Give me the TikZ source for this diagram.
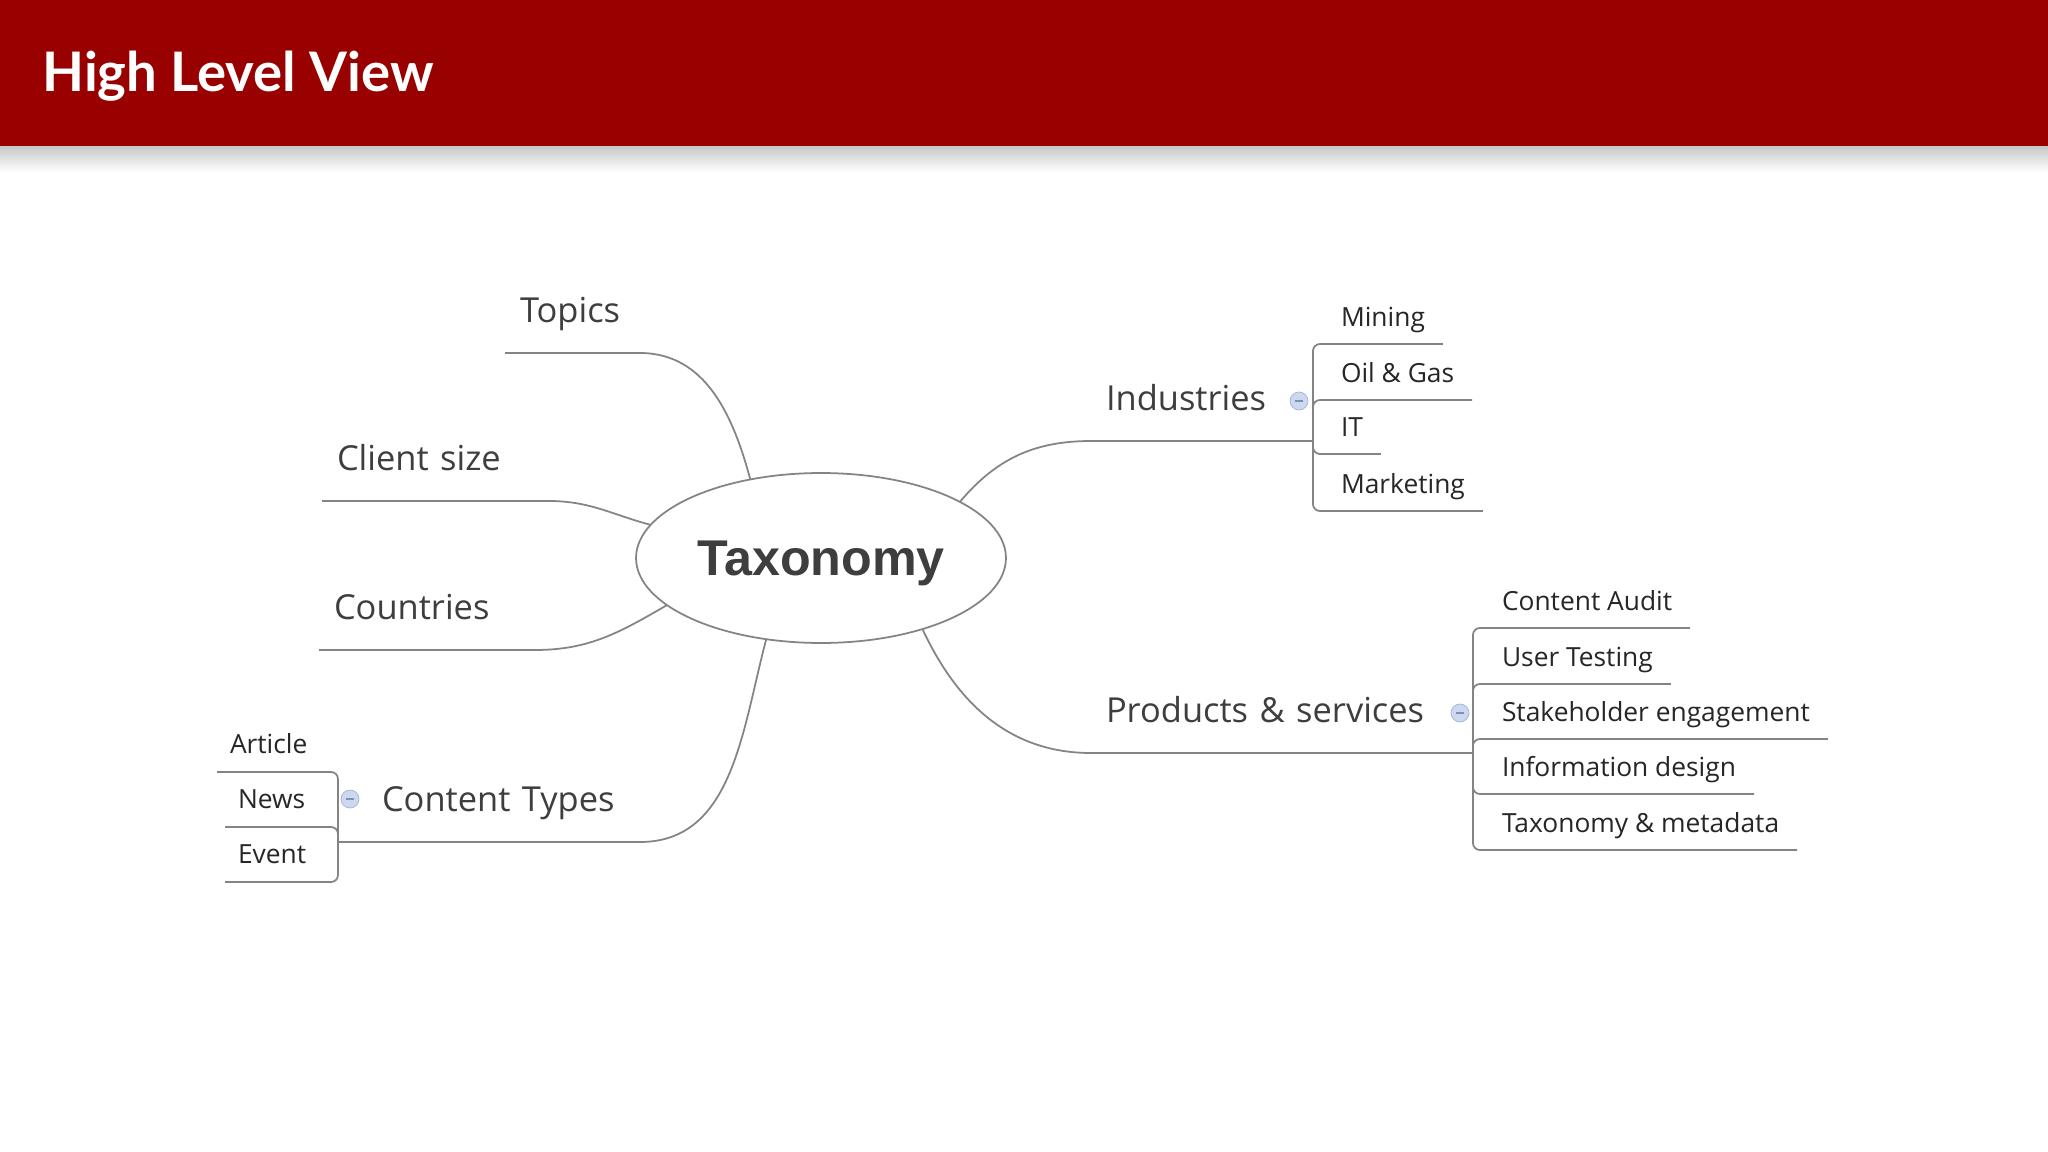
\documentclass[tikz,border=0pt]{standalone}
\usepackage{fontspec}
\setmainfont{Open Sans}
\newfontfamily\titlefont{Lato}
\newfontfamily\rootfont{Liberation Sans}
\usetikzlibrary{shapes.geometric,positioning,calc}

\definecolor{hdred}{RGB}{153,0,0}
\definecolor{ink}{RGB}{62,62,62}
\definecolor{wire}{RGB}{132,132,132}
\definecolor{colfill}{RGB}{204,216,238}
\definecolor{colline}{RGB}{160,180,220}

\begin{document}
\begin{tikzpicture}[x=0.02cm, y=-0.02cm,
    root/.style={ellipse, draw=wire, line width=1pt, minimum width=7.4cm, minimum height=3.4cm, inner sep=0pt, outer sep=0pt, text depth=0pt, text=ink, font=\rootfont\bfseries\fontsize{28.6}{32}\selectfont},
    topic/.style={anchor=south west, inner xsep=0.3cm, inner ysep=0pt, outer sep=0pt, text depth=0.62cm, align=left, text=ink, font=\fontsize{19.6}{24}\selectfont},
    leaf/.style={anchor=south west, inner xsep=0.36cm, inner ysep=0pt, outer sep=0pt, text depth=0.36cm, text=black!85, font=\fontsize{15}{18}\selectfont},
    branch/.style={draw=wire, line width=1pt},
    twig/.style={draw=wire, line width=1pt, rounded corners=0.14cm},
    toggle/.style={circle, draw=colline, fill=colfill, minimum size=0.36cm, inner sep=0pt, path picture={\draw[colline!80!black, line width=0.8pt] ([xshift=-0.08cm]path picture bounding box.center) -- ([xshift=0.08cm]path picture bounding box.center);}}
]

    % Page and header
    \useasboundingbox (0,0) rectangle (2048,1152);
    \fill[white] (0,0) rectangle (2048,1152);
    \shade[top color=black!22, bottom color=white] (0,146) rectangle (2048,172);
    \fill[hdred] (0,0) rectangle (2048,146);
    \node[anchor=base west, inner sep=0pt, text=white, font=\titlefont\bfseries\fontsize{31}{36}\selectfont] (title) at (42,92) {High Level View};

    % Central topic
    \node[root] (taxo) at (821,558) {Taxonomy};

    % Main topics
    \node[topic, text width=2.1cm] (topics) at (505,353) {Topics};
    \node[topic, text width=3.94cm] (client) at (322,501) {Client size};
    \node[topic, text width=3.72cm] (countries) at (319,650) {Countries};
    \node[topic, text width=4.86cm] (ctypes) at (367,842) {Content Types};
    \node[topic, text width=3.84cm] (inds) at (1091,441) {Industries};
    \node[topic, text width=7.04cm] (prods) at (1091,753) {Products \& services};
    \coordinate (ctJ) at (338,842);

    % Collapse buttons
    \node[toggle] (indtog) at (1299,401) {};
    \node[toggle] (prodtog) at (1460,713) {};
    \node[toggle] (cttog) at (350,799) {};

    % Industries
    \node[leaf] (mining) at (1323,344) {Mining};
    \node[leaf] (oilgas) at (1323,400) {Oil \& Gas};
    \node[leaf] (it) at (1323,454) {IT};
    \node[leaf] (marketing) at (1323,511) {Marketing};

    % Products & services
    \node[leaf] (audit) at (1484,628) {Content Audit};
    \node[leaf] (usertest) at (1484,684) {User Testing};
    \node[leaf] (stake) at (1484,739) {Stakeholder engagement};
    \node[leaf] (infodes) at (1484,794) {Information design};
    \node[leaf] (taxmeta) at (1484,850) {Taxonomy \& metadata};

    % Content types
    \node[leaf, inner xsep=0.26cm, text depth=0.38cm] (article) at (217,772) {Article};
    \node[leaf, inner xsep=0.26cm, text depth=0.38cm] (news) at (225,827) {News};
    \node[leaf, inner xsep=0.26cm, text depth=0.38cm] (event) at (225,882) {Event};

    % Branches
    \draw[branch] (taxo.132) to[out=105,in=0] (topics.south east) -- (topics.south west);
    \draw[branch] (taxo.169) to[out=165,in=0] (client.south east) -- (client.south west);
    \draw[branch] (taxo.197) to[out=210,in=0] (countries.south east) -- (countries.south west);
    \draw[branch] (taxo.236) to[out=255,in=0] (ctypes.south east) -- (ctJ);
    \draw[branch] (taxo.22) to[out=50,in=180] (inds.south west) -- (inds.south east);
    \draw[branch] (taxo.325) to[out=295,in=180] (prods.south west) -- (prods.south east);

    % Sub-branches
    \draw[twig] (inds.south east) |- (mining.south east);
    \draw[twig] (inds.south east) |- (oilgas.south east);
    \draw[twig] (inds.south east) |- (it.south east);
    \draw[twig] (inds.south east) |- (marketing.south east);
    \draw[twig] (prods.south east) |- (audit.south east);
    \draw[twig] (prods.south east) |- (usertest.south east);
    \draw[twig] (prods.south east) |- (stake.south east);
    \draw[twig] (prods.south east) |- (infodes.south east);
    \draw[twig] (prods.south east) |- (taxmeta.south east);
    \draw[twig] (ctJ) |- (article.south west);
    \draw[twig] (ctJ) |- (news.south west);
    \draw[twig] (ctJ) |- (event.south west);

\end{tikzpicture}
\end{document}
